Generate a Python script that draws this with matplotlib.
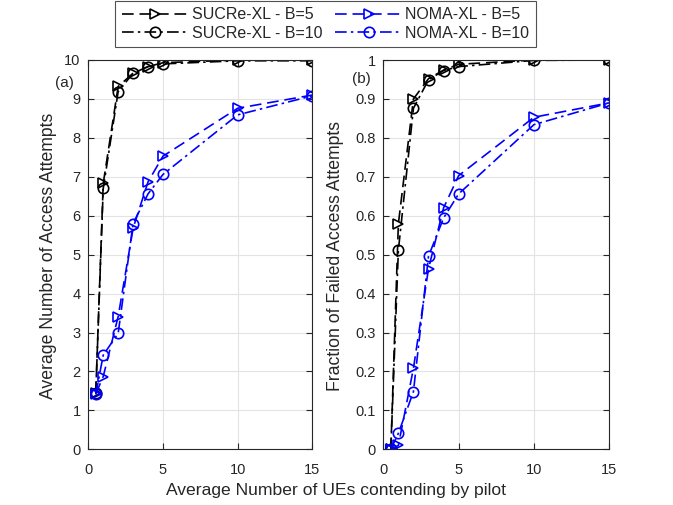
import matplotlib
matplotlib.use("Agg")
import matplotlib.pyplot as plt
from matplotlib.ticker import FuncFormatter

plt.rcParams['font.family'] = ['Liberation Sans', 'DejaVu Sans']

x = [0.5, 1, 2, 3, 4, 5, 10, 15]

# (a) Average number of access attempts
a_sucre_b5 = [1.45, 6.83, 9.32, 9.66, 9.83, 9.93, 10.0, 10.0]
a_sucre_b10 = [1.44, 6.70, 9.19, 9.66, 9.83, 9.90, 9.98, 9.98]
a_noma_b5 = [1.42, 1.87, 3.41, 5.68, 6.87, 7.53, 8.76, 9.10]
a_noma_b10 = [1.41, 2.42, 2.98, 5.80, 6.56, 7.06, 8.59, 9.08]

# (b) Fraction of failed access attempts
b_sucre_b5 = [0.0, 0.579, 0.90, 0.952, 0.974, 0.989, 1.0, 1.0]
b_sucre_b10 = [0.0, 0.511, 0.876, 0.949, 0.973, 0.983, 0.999, 1.0]
b_noma_b5 = [0.0, 0.01, 0.208, 0.464, 0.62, 0.703, 0.853, 0.89]
b_noma_b10 = [0.0, 0.041, 0.148, 0.496, 0.594, 0.656, 0.834, 0.89]

labels = ['SUCRe-XL - B=5', 'SUCRe-XL - B=10', 'NOMA-XL - B=5', 'NOMA-XL - B=10']

W, H = 673, 505
TXT = '#262626'

fig = plt.figure(figsize=(W / 100, H / 100), dpi=100)
ax1 = fig.add_axes([88.3 / W, 1 - 449.3 / H, 224 / W, 389.3 / H])
ax2 = fig.add_axes([383.3 / W, 1 - 449.3 / H, 226 / W, 389.3 / H])

dash = (0, (7, 3.5))
dashdot = (0, (7, 2.5, 1.5, 2.5))
styles = [
    dict(color='black', linestyle=dash, marker='>'),
    dict(color='black', linestyle=dashdot, marker='o'),
    dict(color='blue', linestyle=dash, marker='>'),
    dict(color='blue', linestyle=dashdot, marker='o'),
]

handles = []
for ax, series in [(ax1, [a_sucre_b5, a_sucre_b10, a_noma_b5, a_noma_b10]),
                   (ax2, [b_sucre_b5, b_sucre_b10, b_noma_b5, b_noma_b10])]:
    hs = []
    for s, st, lab in zip(series, styles, labels):
        h, = ax.plot(x, s, linewidth=1.2, markersize=7.5, markerfacecolor='none',
                     markeredgewidth=1.2, label=lab, **st)
        hs.append(h)
    handles = hs
    ax.set_xlim(0, 15)
    ax.set_xticks([0, 5, 10, 15])
    ax.grid(True, color='#e3e3e3', linewidth=0.8)
    ax.set_axisbelow(True)
    ax.tick_params(direction='in', top=True, right=True, labelsize=10.5, length=4,
                   colors=TXT, labelcolor=TXT, width=0.8)
    ax.tick_params(axis='x', pad=10)
    ax.tick_params(axis='y', pad=5.5)
    for sp in ax.spines.values():
        sp.set_color(TXT)
        sp.set_linewidth(0.8)

ax1.set_ylim(0, 10)
ax1.set_yticks(range(0, 11))
ax2.set_ylim(0, 1)
ax2.set_yticks([i / 10 for i in range(11)])
ax2.yaxis.set_major_formatter(FuncFormatter(lambda v, p: f'{v:g}'))

fig.text(49 / W, 1 - 256 / H, 'Average Number of Access Attempts', fontsize=12.7,
         color=TXT, rotation=90, ha='center', va='center')
fig.text(335 / W, 1 - 256 / H, 'Fraction of Failed Access Attempts', fontsize=12.7,
         color=TXT, rotation=90, ha='center', va='center')

fig.text(55 / W, 1 - 82.7 / H, '(a)', fontsize=11, color=TXT, ha='left', va='center')
fig.text(352 / W, 1 - 79.3 / H, '(b)', fontsize=11, color=TXT, ha='left', va='center')

fig.text(335.5 / W, 1 - 491 / H, 'Average Number of UEs contending by pilot', fontsize=12.6,
         color=TXT, ha='center', va='center')

leg = fig.legend(handles, labels, ncol=2, loc='upper center',
                 bbox_to_anchor=(325.5 / W, 1 - 1 / H),
                 fontsize=11.5, frameon=True, fancybox=False, edgecolor=TXT,
                 handlelength=4.2, handletextpad=0.2, columnspacing=0.8,
                 borderpad=0.4, labelspacing=0.2, borderaxespad=0)
leg.get_frame().set_linewidth(0.8)
for t in leg.get_texts():
    t.set_color(TXT)

fig.savefig('out.png', dpi=100)
